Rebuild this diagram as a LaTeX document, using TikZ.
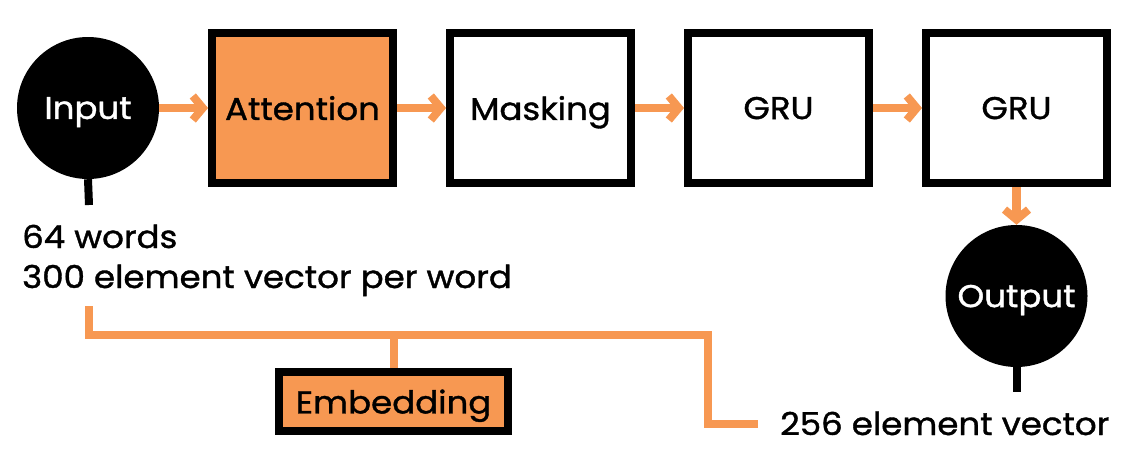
\documentclass[tikz,border=0pt]{standalone}
\usepackage{fontspec}
\setmainfont{Poppins}[FakeStretch=1.08, FakeBold=1.2]
\usetikzlibrary{arrows.meta}
\definecolor{orng}{HTML}{F79852}
\tikzset{
  x=1pt, y=-1pt,
  every node/.style={font=\fontsize{31.5}{38}\selectfont},
  blockbox/.style={draw=black, line width=8pt, minimum width=181pt, minimum height=150pt, inner sep=0pt, text depth=0pt},
  blob/.style={circle, fill=black, minimum size=142pt, inner sep=0pt, text=white, text depth=0pt},
  flow/.style={draw=orng, line width=8.5pt, -{Straight Barb[length=10pt,width=24pt,line width=8pt]}},
  wire/.style={draw=orng, line width=8pt},
  stem/.style={draw=black, line width=8pt},
  lbl/.style={anchor=base west, inner sep=0pt}
}
\begin{document}
\begin{tikzpicture}
\useasboundingbox (0,0) rectangle (1126,471);
\node[blob] (input) at (88,108) {Input};
\node[blockbox, fill=orng] (att) at (302.5,108) {Attention};
\node[blockbox, fill=white] (mask) at (540.5,108) {Masking};
\node[blockbox, fill=white] (gru1) at (778.5,108) {GRU};
\node[blockbox, fill=white] (gru2) at (1016.5,108) {GRU};
\node[blob] (output) at (1016.5,296) {Output};
\node[draw=black, line width=8pt, fill=orng, minimum width=229pt, minimum height=59pt, inner sep=0pt, text depth=0pt] (emb) at (393.5,401.5) {Embedding};
\node[lbl] (w1) at (22,248) {64 words};
\node[lbl] (w2) at (22,288) {300 element vector per word};
\node[lbl] (v256) at (780,435) {256 element vector};
\coordinate (instem) at (89,205);
\coordinate (outstem) at (1016.5,392);
\coordinate (wstart) at (89,306);
\coordinate (jn) at (708,335);
\coordinate (wend) at (758,424);
\draw[stem] (input.south) -- (instem);
\draw[stem] (output.south) -- (outstem);
\draw[flow] (input.east) -- (att.west);
\draw[flow] (att.east) -- (mask.west);
\draw[flow] (mask.east) -- (gru1.west);
\draw[flow] (gru1.east) -- (gru2.west);
\draw[flow] (gru2.south) -- (output.north);
\draw[wire, line join=miter] (wstart) |- (jn) |- (wend);
\draw[wire] (emb.north) -- (emb.north |- jn);
\end{tikzpicture}
\end{document}
